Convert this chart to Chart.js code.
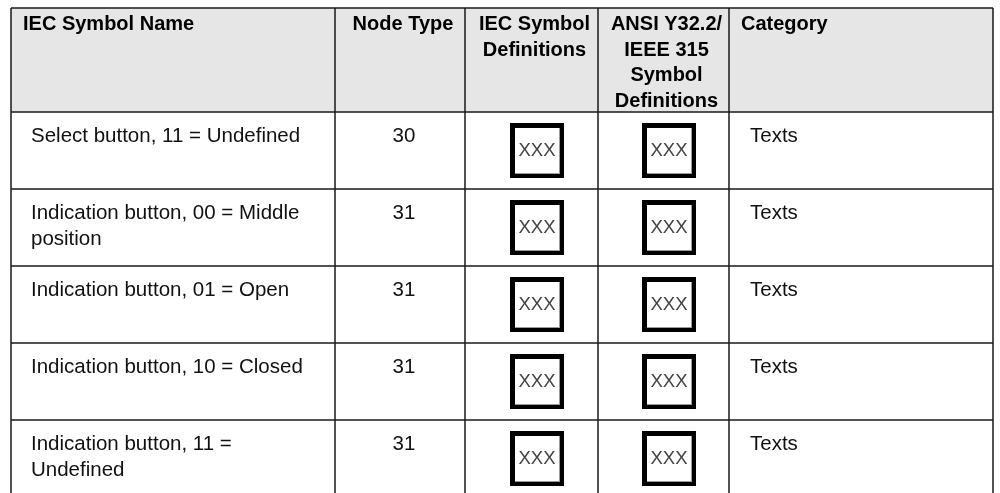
<!DOCTYPE html>
<html lang="en">
<head>
    <meta charset="UTF-8">
    <title>IEC Symbol Table</title>
    <style>
        body {
            margin: 0;
            background-color: #ffffff;
        }
        #wrap {
            width: 1000px;
            height: 493px;
            position: relative;
        }
    </style>
    <script src="https://cdn.jsdelivr.net/npm/chart.js"></script>
</head>
<body>
    <div id="wrap">
        <canvas id="tableChart"></canvas>
    </div>
    <script>
        // table content
        const headers = [
            ["IEC Symbol Name"],
            ["Node Type"],
            ["IEC Symbol", "Definitions"],
            ["ANSI Y32.2/", "IEEE 315", "Symbol", "Definitions"],
            ["Category"]
        ];
        const symbolNames = [
            ["Select button, 11 = Undefined"],
            ["Indication button, 00 = Middle", "position"],
            ["Indication button, 01 = Open"],
            ["Indication button, 10 = Closed"],
            ["Indication button, 11 =", "Undefined"]
        ];
        const nodeTypes = [30, 31, 31, 31, 31];
        const iecSymbols = ["XXX", "XXX", "XXX", "XXX", "XXX"];
        const ansiSymbols = ["XXX", "XXX", "XXX", "XXX", "XXX"];
        const categories = ["Texts", "Texts", "Texts", "Texts", "Texts"];

        // layout (scale units = page pixels)
        const colEdges = [11, 335, 465, 598, 729, 993];
        const rowEdges = [8, 112, 189, 266, 343, 420, 497];
        const lineGap = 25.5;
        const font = '"Liberation Sans", Arial, sans-serif';

        const tablePlugin = {
            id: 'tablePlugin',
            afterDraw(chart) {
                const ctx = chart.ctx;
                const xs = chart.scales.x;
                const ys = chart.scales.y;
                const X = v => xs.getPixelForValue(v);
                const Y = v => ys.getPixelForValue(v);
                const bottom = Y(493);

                ctx.save();
                // header background
                ctx.fillStyle = '#e6e6e6';
                ctx.fillRect(X(colEdges[0]), Y(rowEdges[0]), X(colEdges[5]) - X(colEdges[0]), Y(rowEdges[1]) - Y(rowEdges[0]));

                // grid lines
                ctx.strokeStyle = '#1a1a1a';
                ctx.lineWidth = 1.5;
                ctx.beginPath();
                colEdges.forEach(c => {
                    ctx.moveTo(X(c), Y(rowEdges[0]));
                    ctx.lineTo(X(c), bottom);
                });
                rowEdges.slice(0, -1).forEach(r => {
                    ctx.moveTo(X(colEdges[0]), Y(r));
                    ctx.lineTo(X(colEdges[5]), Y(r));
                });
                ctx.stroke();

                // header text
                ctx.fillStyle = '#000';
                ctx.font = 'bold 20px ' + font;
                ctx.textBaseline = 'alphabetic';
                headers.forEach((lines, i) => {
                    const left = colEdges[i], right = colEdges[i + 1];
                    lines.forEach((t, k) => {
                        const y = Y(rowEdges[0] + 22 + k * lineGap);
                        if (i === 0 || i === 4) {
                            ctx.textAlign = 'left';
                            ctx.fillText(t, X(left + 12), y);
                        } else {
                            ctx.textAlign = 'center';
                            ctx.fillText(t, X((left + right) / 2 + 3), y);
                        }
                    });
                });

                // body rows
                const bodyFont = '20.5px ' + font;
                ctx.font = bodyFont;
                for (let r = 0; r < symbolNames.length; r++) {
                    const top = rowEdges[r + 1];
                    ctx.fillStyle = '#111';
                    ctx.textAlign = 'left';
                    symbolNames[r].forEach((t, k) => {
                        ctx.fillText(t, X(colEdges[0] + 20), Y(top + 30 + k * lineGap));
                    });
                    ctx.textAlign = 'center';
                    ctx.fillText(String(nodeTypes[r]), X((colEdges[1] + colEdges[2]) / 2 + 4), Y(top + 30));
                    ctx.textAlign = 'left';
                    ctx.fillText(categories[r], X(colEdges[4] + 21), Y(top + 30));

                    // symbol boxes
                    [iecSymbols[r], ansiSymbols[r]].forEach((s, j) => {
                        const cx = (colEdges[2 + j] + colEdges[3 + j]) / 2 + 5.5;
                        const bx = X(cx - 27), by = Y(top + 11);
                        const bw = X(cx + 27) - bx, bh = Y(top + 66) - by;
                        ctx.fillStyle = '#fff';
                        ctx.fillRect(bx, by, bw, bh);
                        ctx.fillStyle = '#000';
                        ctx.fillRect(bx, by, bw, 5);
                        ctx.fillRect(bx, by, 5, bh);
                        ctx.fillRect(bx + bw - 4, by, 4, bh);
                        ctx.fillRect(bx, by + bh - 4, bw, 4);
                        ctx.fillStyle = '#9a9a9a';
                        ctx.fillRect(bx + bw - 5, by + 5, 1, bh - 9);
                        ctx.fillRect(bx + 5, by + bh - 5, bw - 10, 1);
                        ctx.fillStyle = '#444';
                        ctx.font = '18.5px ' + font;
                        ctx.textAlign = 'center';
                        ctx.textBaseline = 'middle';
                        ctx.fillText(s, X(cx), Y(top + 11 + 28));
                        ctx.textBaseline = 'alphabetic';
                        ctx.font = bodyFont;
                    });
                }
                ctx.restore();
            }
        };

        new Chart(document.getElementById('tableChart').getContext('2d'), {
            type: 'scatter',
            data: { datasets: [] },
            options: {
                responsive: true,
                maintainAspectRatio: false,
                animation: false,
                events: [],
                layout: { padding: 0 },
                plugins: { legend: { display: false }, tooltip: { enabled: false } },
                scales: {
                    x: { type: 'linear', min: 0, max: 1000, display: false },
                    y: { type: 'linear', min: 0, max: 493, reverse: true, display: false }
                }
            },
            plugins: [tablePlugin]
        });
    </script>
</body>
</html>
